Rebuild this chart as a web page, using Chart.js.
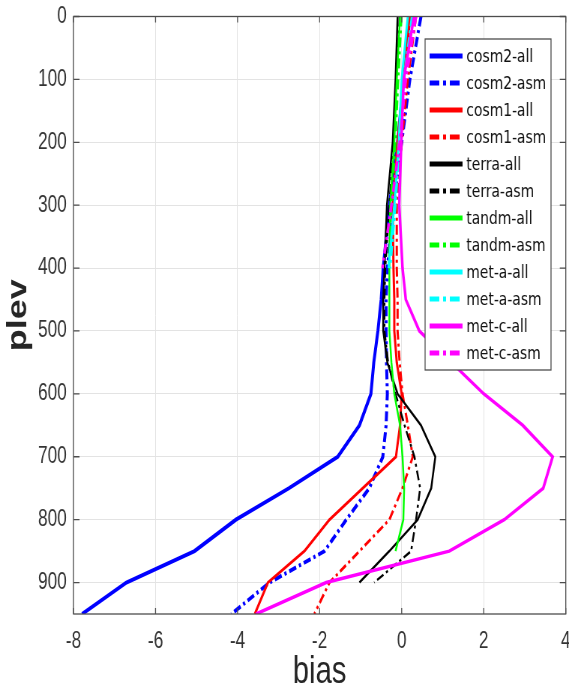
<!DOCTYPE html>
<html>
<head>
<meta charset="utf-8">
<script src="https://cdn.jsdelivr.net/npm/chart.js@4.4.1/dist/chart.umd.min.js"></script>
<style>
  html, body { margin: 0; padding: 0; background: #fff; overflow: hidden; }
</style>
</head>
<body>
<canvas id="chart" width="759" height="690" style="width:569px;height:690px;display:block"></canvas>
<script>
// pressure levels (y) and bias profiles (x) for each data set
const levels = [0, 100, 200, 300, 400, 450, 500, 550, 600, 650, 700, 750, 800, 850, 900, 950];

const cosm2All = [0.2, 0.05, -0.1, -0.3, -0.45, -0.5, -0.58, -0.68, -0.75, -1.03, -1.56, -2.75, -4.04, -5.05, -6.71, -7.79];
const cosm2Asm = [0.47, 0.2, 0.0, -0.2, -0.35, -0.38, -0.38, -0.37, -0.35, -0.38, -0.46, -0.79, -1.35, -1.88, -3.22, -4.15];
const cosm1All = [0.2, 0.05, -0.1, -0.22, -0.2, -0.18, -0.18, -0.12, 0.0, -0.04, -0.14, -0.95, -1.76, -2.37, -3.26, -3.58];
const cosm1Asm = [0.35, 0.15, 0.0, -0.12, -0.12, -0.1, -0.1, -0.05, 0.02, 0.15, 0.27, 0.02, -0.3, -1.03, -1.76, -2.13];
const terraAll = [-0.1, -0.15, -0.22, -0.36, -0.42, -0.45, -0.45, -0.35, -0.1, 0.47, 0.82, 0.72, 0.39, -0.3, -1.03, null];
const terraAsm = [-0.05, -0.12, -0.2, -0.3, -0.4, -0.42, -0.42, -0.33, -0.15, 0.07, 0.31, 0.45, 0.35, 0.23, -0.67, null];
const tandmAll = [-0.04, -0.12, -0.18, -0.28, -0.3, -0.3, -0.3, -0.25, -0.18, -0.04, 0.02, 0.06, 0.04, -0.15, null, null];
const tandmAsm = [0.0, -0.08, -0.15, -0.25, -0.32, null, null, null, null, null, null, null, null, null, null, null];
const metaAll = [0.15, 0.0, -0.07, -0.18, -0.32, null, null, null, null, null, null, null, null, null, null, null];
const metaAsm = [0.25, 0.05, -0.05, -0.15, -0.28, null, null, null, null, null, null, null, null, null, null, null];
const metcAll = [0.3, 0.05, -0.01, -0.06, 0.02, 0.1, 0.43, 1.21, 2.0, 2.95, 3.68, 3.45, 2.5, 1.16, -1.84, -3.55];
const metcAsm = [0.35, 0.1, -0.05, -0.25, -0.47, null, null, null, null, null, null, null, null, null, null, null];

const seriesNames = ['cosm2-all', 'cosm2-asm', 'cosm1-all', 'cosm1-asm', 'terra-all', 'terra-asm',
                     'tandm-all', 'tandm-asm', 'met-a-all', 'met-a-asm', 'met-c-all', 'met-c-asm'];
const seriesValues = [cosm2All, cosm2Asm, cosm1All, cosm1Asm, terraAll, terraAsm,
                      tandmAll, tandmAsm, metaAll, metaAsm, metcAll, metcAsm];

const xTickValues = [-8, -6, -4, -2, 0, 2, 4];
const yTickValues = [0, 100, 200, 300, 400, 500, 600, 700, 800, 900];

const colors = ['#0000ff', '#0000ff', '#ff0000', '#ff0000', '#000000', '#000000',
                '#00ff00', '#00ff00', '#00ffff', '#00ffff', '#ff00ff', '#ff00ff'];
const widths = [4, 4, 3, 3, 2.5, 2.5, 2.5, 2.5, 3, 3, 3.5, 3.5];
const dashDot = [10, 4, 3, 4];

const datasets = seriesNames.map((name, i) => ({
    label: name,
    data: levels.map((p, k) => ({ x: seriesValues[i][k], y: p })).filter(pt => pt.x !== null),
    borderColor: colors[i],
    backgroundColor: colors[i],
    borderWidth: widths[i],
    borderDash: name.endsWith('asm') ? dashDot : [],
    showLine: true,
    pointRadius: 0,
    tension: 0,
    fill: false,
    order: seriesNames.length - i   // later series drawn on top
}));

// box with inward ticks and the legend panel
const frameAndLegend = {
    id: 'frameAndLegend',
    afterDraw(chart) {
        const { ctx, chartArea: a, scales: { x, y } } = chart;
        ctx.save();
        ctx.strokeStyle = '#4d4d4d';
        ctx.lineWidth = 1.3;
        ctx.setLineDash([]);
        ctx.strokeRect(a.left, a.top, a.right - a.left, a.bottom - a.top);
        ctx.beginPath();
        xTickValues.forEach(v => {
            const px = x.getPixelForValue(v);
            ctx.moveTo(px, a.bottom); ctx.lineTo(px, a.bottom - 6);
            ctx.moveTo(px, a.top); ctx.lineTo(px, a.top + 6);
        });
        yTickValues.forEach(v => {
            const py = y.getPixelForValue(v);
            ctx.moveTo(a.left, py); ctx.lineTo(a.left + 8, py);
            ctx.moveTo(a.right, py); ctx.lineTo(a.right - 8, py);
        });
        ctx.stroke();

        // legend
        const bx = 567, by = 39, bw = 168, bh = 331;
        ctx.fillStyle = '#fff';
        ctx.fillRect(bx, by, bw, bh);
        ctx.strokeStyle = '#4d4d4d';
        ctx.lineWidth = 1.3;
        ctx.strokeRect(bx, by, bw, bh);
        ctx.font = '18.5px "DejaVu Sans", sans-serif';
        ctx.textBaseline = 'middle';
        ctx.textAlign = 'left';
        chart.data.datasets.forEach((ds, i) => {
            const yy = 56 + 27 * i;
            ctx.beginPath();
            ctx.strokeStyle = ds.borderColor;
            ctx.lineWidth = 5;
            ctx.lineCap = 'butt';
            ctx.setLineDash(ds.borderDash.length ? [13, 5, 4, 5] : []);
            ctx.moveTo(573, yy);
            ctx.lineTo(617, yy);
            ctx.stroke();
            ctx.fillStyle = '#111';
            ctx.fillText(ds.label, 622, yy + 1);
        });
        ctx.restore();
    }
};

const chart = document.getElementById('chart').getContext('2d');

const myChart = new Chart(chart, {
    type: 'scatter',
    data: { datasets },
    plugins: [frameAndLegend],
    options: {
        responsive: false,
        devicePixelRatio: 1,
        animation: false,
        layout: { padding: { left: 0, top: 16.5, right: 4.3, bottom: 0 } },
        plugins: { legend: { display: false }, tooltip: { enabled: false } },
        scales: {
            x: {
                type: 'linear',
                min: -8,
                max: 4,
                afterBuildTicks: s => { s.ticks = xTickValues.map(v => ({ value: v })); },
                afterFit: s => { s.height = 76; s.paddingLeft = 0; s.paddingRight = 0; },
                grid: { color: '#e3e3e3', lineWidth: 1, drawTicks: false },
                border: { display: false },
                ticks: {
                    padding: 14,
                    color: '#333',
                    font: { family: '"Liberation Sans", sans-serif', size: 23 },
                    maxRotation: 0
                },
                title: {
                    display: true,
                    text: 'bias',
                    color: '#262626',
                    font: { family: '"Liberation Sans Narrow", "Liberation Sans", sans-serif', size: 39, lineHeight: 0.8 },
                    padding: { top: 0, bottom: 2 }
                }
            },
            y: {
                type: 'linear',
                reverse: true,
                min: 0,
                max: 950,
                afterBuildTicks: s => { s.ticks = yTickValues.map(v => ({ value: v })); },
                afterFit: s => { s.width = 98; s.paddingTop = 0; s.paddingBottom = 0; },
                grid: { color: '#e3e3e3', lineWidth: 1, drawTicks: false },
                border: { display: false },
                ticks: {
                    padding: 9,
                    color: '#333',
                    font: { family: '"Liberation Sans", sans-serif', size: 23 }
                },
                title: {
                    display: true,
                    text: 'plev',
                    color: '#262626',
                    font: { family: '"Liberation Sans Narrow", "Liberation Sans", sans-serif', size: 36, weight: 'bold', lineHeight: 1 },
                    padding: { top: 7, bottom: 0 }
                }
            }
        }
    }
});
</script>
</body>
</html>
